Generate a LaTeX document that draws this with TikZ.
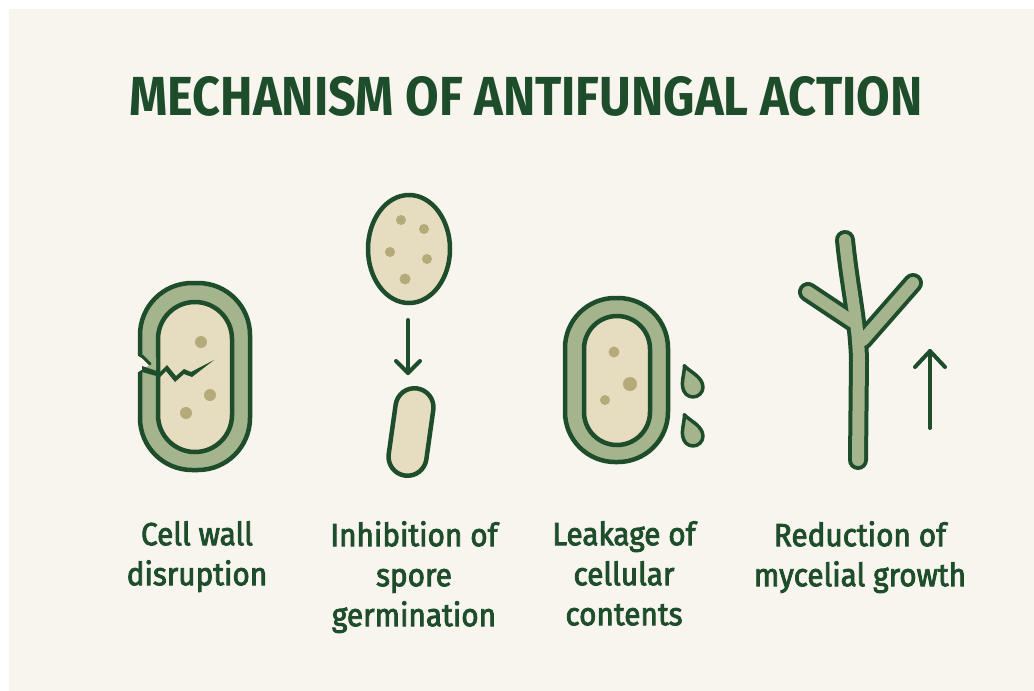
\documentclass[tikz,border=0pt]{standalone}
\usepackage{fontspec}
\setmainfont{Fira Sans}
\newfontfamily\headfont[FakeStretch=0.885]{Fira Sans Bold}
\newfontfamily\labelfont[FakeBold=2.6, FakeStretch=0.93]{Fira Sans}
\definecolor{paper}{HTML}{F8F5EE}
\definecolor{forest}{HTML}{1E4D2B}
\definecolor{wallgreen}{HTML}{A4B48C}
\definecolor{cytoplasm}{HTML}{E6DCBF}
\definecolor{granule}{HTML}{B5AB7A}
\tikzset{
  outline/.style={draw=forest, line width=4.5pt, line join=round},
  granuledot/.style={fill=granule},
  thinarrow/.style={draw=forest, line width=4pt, line cap=round, line join=round},
  caption/.style={text=forest, align=center, inner sep=0pt, anchor=north,
    font=\labelfont\fontsize{32}{40}\selectfont},
}
\begin{document}
\begin{tikzpicture}[x=1pt, y=-1pt]
  \useasboundingbox (0,0) rectangle (1034,691);
  \fill[white] (0,0) rectangle (1034,691);
  \fill[paper] (9,9) rectangle (1034,691);

  % heading
  \node[text=forest, font=\headfont\fontsize{55}{60}\selectfont] (title) at (526,96) {MECHANISM OF ANTIFUNGAL ACTION};

  % ---- cell with a broken wall ----
  \draw[outline, fill=wallgreen, rounded corners=52] (140,283) rectangle (250,470);
  \draw[outline, fill=cytoplasm, rounded corners=37] (158,302) rectangle (232,452);
  \fill[granuledot] (201,342) circle (6);
  \fill[granuledot] (210,395) circle (6);
  \fill[granuledot] (186,413) circle (6);
  % fracture through the wall
  \fill[paper] (135,354) -- (151,364) -- (135,374) -- cycle;
  \fill[wallgreen] (144,357) -- (151,364) -- (143,372) -- (156,372) -- (156,357) -- cycle;
  \draw[forest, line width=3pt, line join=round, line cap=round] (142,356) -- (150,364);
  \fill[forest] (142,366) -- (160,372) -- (167,365) -- (176,376) -- (184,369) -- (191,372) -- (214,360)
     -- (192,377) -- (184,374) -- (175,382) -- (166,371) -- (160,377) -- (142,372) -- cycle;

  % ---- spore that fails to germinate ----
  \draw[outline, fill=cytoplasm] (409,249) ellipse [x radius=41, y radius=54];
  \fill[granuledot] (401,220) circle (5);
  \fill[granuledot] (424,229) circle (5);
  \fill[granuledot] (390,252) circle (5);
  \fill[granuledot] (427,259) circle (5);
  \fill[granuledot] (405,279) circle (5.5);
  \coordinate (sporeArrowTop) at (408,320);
  \coordinate (sporeArrowTip) at (408,373);
  \draw[thinarrow] (sporeArrowTop) -- (sporeArrowTip);
  \draw[thinarrow] ([xshift=-12pt,yshift=12pt]sporeArrowTip) -- (sporeArrowTip) -- ([xshift=12pt,yshift=12pt]sporeArrowTip);
  \begin{scope}[shift={(411,432)}, rotate=-8]
    \draw[outline, fill=cytoplasm, rounded corners=19] (-19,-44) rectangle (19,44);
  \end{scope}

  % ---- leaking cell ----
  \draw[outline, fill=wallgreen, rounded corners=50] (565,298) rectangle (668,462);
  \draw[outline, fill=cytoplasm, rounded corners=33] (584,316) rectangle (650,445);
  \fill[granuledot] (614,352) circle (5.5);
  \fill[granuledot] (630,384) circle (7);
  \fill[granuledot] (605,400) circle (5);
  \foreach \cx/\cy in {693/387, 693/436} {
    \begin{scope}[shift={(\cx,\cy)}, rotate=22]
      \draw[outline, line width=3.5pt, fill=wallgreen]
        (0,-23) .. controls (3,-15) and (10,-9) .. (10,0)
        arc (0:180:10) .. controls (-10,-9) and (-3,-15) .. (0,-23) -- cycle;
    \end{scope}
  }

  % ---- branching hypha ----
  \begin{scope}[line cap=round, line join=round]
    \foreach \w/\c in {20/forest, 12/wallgreen} {
      \draw[\c, line width=\w pt] (845,240) .. controls (850,290) and (858,320) .. (859,360) -- (858,460);
      \draw[\c, line width=\w pt] (808,292) -- (853,322);
      \draw[\c, line width=\w pt] (913,283) -- (863,340);
    }
  \end{scope}
  \coordinate (growthTail) at (930,428);
  \coordinate (growthTip) at (930,351);
  \draw[thinarrow] (growthTail) -- (growthTip);
  \draw[thinarrow] ([xshift=-15pt,yshift=-16pt]growthTip) -- (growthTip) -- ([xshift=15pt,yshift=-16pt]growthTip);

  % captions
  \node[caption] (c1) at (197,521) {Cell wall\\disruption};
  \node[caption] (c2) at (414,521) {Inhibition of\\spore\\germination};
  \node[caption] (c3) at (624,521) {Leakage of\\cellular\\contents};
  \node[caption] (c4) at (860,521) {Reduction of\\mycelial growth};
\end{tikzpicture}
\end{document}
